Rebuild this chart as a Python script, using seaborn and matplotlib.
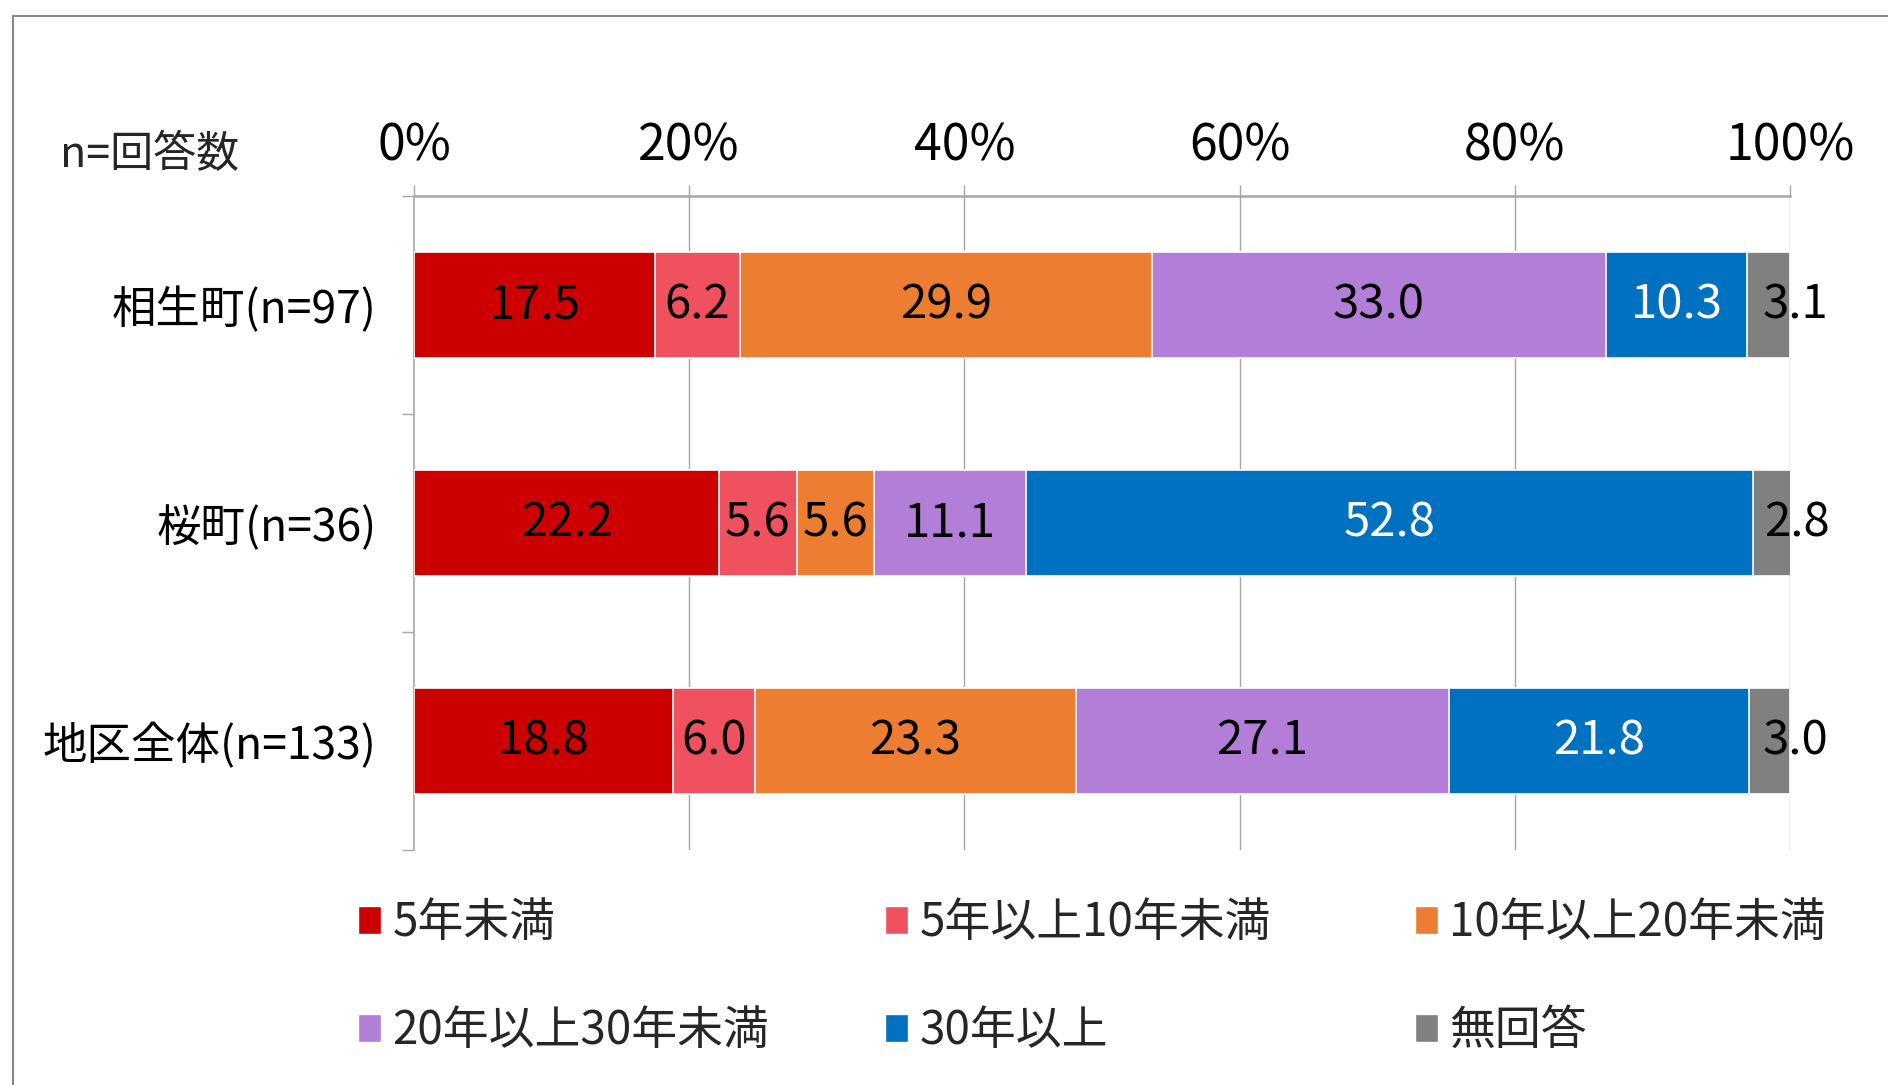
import numpy as np
import pandas as pd
import matplotlib
matplotlib.use('Agg')
import matplotlib.pyplot as plt
import seaborn as sns
from matplotlib.patches import Rectangle, Patch

# data
areas = ['相生町(n=97)', '桜町(n=36)', '地区全体(n=133)']
categories = ['5年未満', '5年以上10年未満', '10年以上20年未満',
              '20年以上30年未満', '30年以上', '無回答']
aioi = [17.5, 6.2, 29.9, 33.0, 10.3, 3.1]
sakura = [22.2, 5.6, 5.6, 11.1, 52.8, 2.8]
zentai = [18.8, 6.0, 23.3, 27.1, 21.8, 3.0]
xticks = [0, 20, 40, 60, 80, 100]
xtick_labels = ['0%', '20%', '40%', '60%', '80%', '100%']

colors = ['#CC0000', '#F0515E', '#ED7D31', '#B27ED8', '#0070C0', '#808080']
text_colors = ['black', 'black', 'black', 'black', 'white', 'black']

sns.set_theme(style='white')
plt.rcParams['font.family'] = ['Noto Sans CJK JP', 'DejaVu Sans']

df = pd.DataFrame([aioi, sakura, zentai], columns=categories)
df.insert(0, 'area', areas)
cum = df[categories].cumsum(axis=1)
cum.insert(0, 'area', areas)

fig = plt.figure(figsize=(18.88, 10.85), dpi=100)
ax = fig.add_axes([414 / 1888, 1 - 850 / 1085, 1376 / 1888, 654 / 1085])

# stacked bars: draw cumulative totals from the longest to the shortest
for cat, col in reversed(list(zip(categories, colors))):
    sns.barplot(data=cum, x=cat, y='area', order=areas, color=col, width=0.49,
                edgecolor='white', linewidth=1.2, saturation=1, ax=ax, zorder=3)

# value labels
for i, area in enumerate(areas):
    vals = df.loc[i, categories].values.astype(float)
    ends = np.cumsum(vals)
    for j, v in enumerate(vals):
        xc = ends[j] - v / 2 if j < len(vals) - 1 else ends[j] + 0.4
        ax.text(xc, i, f'{v:.1f}', ha='center', va='center',
                fontsize=34, color=text_colors[j], zorder=5)

ax.set_xlim(0, 100)
ax.set_ylim(2.5, -0.5)
ax.set_xlabel('')
ax.set_ylabel('')

grid_col = '#A6A6A6'
ax.xaxis.tick_top()
ax.set_xticks(xticks)
ax.set_xticklabels(xtick_labels, fontsize=36)
ax.tick_params(axis='x', top=True, bottom=False, length=8, width=1,
               color=grid_col, pad=9, labelcolor='black')
for xv in xticks[1:]:
    ax.axvline(xv, color=grid_col, lw=1, zorder=1)

ax.set_yticks(range(len(areas)))
ax.set_yticklabels(areas, fontsize=32)
ax.set_yticks([-0.5, 0.5, 1.5, 2.5], minor=True)
ax.tick_params(axis='y', which='major', length=0, pad=27, labelcolor='black')
ax.tick_params(axis='y', which='minor', length=9, width=1, color=grid_col, left=True)

for s in ['right', 'bottom']:
    ax.spines[s].set_visible(False)
ax.spines['top'].set_color(grid_col)
ax.spines['top'].set_linewidth(1.8)
ax.spines['left'].set_color(grid_col)
ax.spines['left'].set_linewidth(1.2)

fig.text(60 / 1888, 1 - 155 / 1085, 'n=回答数', fontsize=31, ha='left', va='center')

# legend, one block per column
col_x = [358, 885, 1415]
for k in range(3):
    handles = [Patch(facecolor=colors[k], edgecolor='white', label=categories[k]),
               Patch(facecolor=colors[k + 3], edgecolor='white', label=categories[k + 3])]
    fig.legend(handles=handles, loc='upper left',
               bbox_to_anchor=(col_x[k] / 1888, 1 - 899 / 1085),
               frameon=False, fontsize=33, handlelength=0.5, handleheight=0.55,
               handletextpad=0.25, labelspacing=1.29, borderaxespad=0, borderpad=0)

# chart frame
fig.patches.append(Rectangle((13 / 1888, -0.1), 1.2, 1 - 16 / 1085 + 0.1,
                             transform=fig.transFigure, fill=False,
                             edgecolor='#888888', lw=1.5))

fig.savefig('out.png', dpi=100)
